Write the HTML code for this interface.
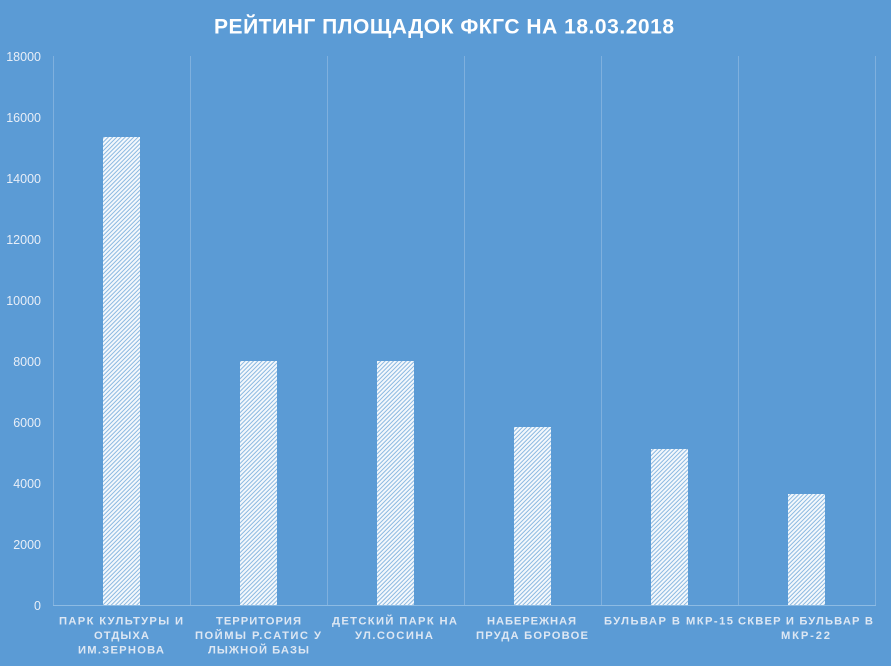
<!DOCTYPE html>
<html><head><meta charset="utf-8">
<style>
html,body{margin:0;padding:0;background:#5b9bd5;}
svg{display:block;}
</style></head>
<body>
<svg width="891" height="666" viewBox="0 0 891 666" xmlns="http://www.w3.org/2000/svg">
<defs>
<pattern id="h" patternUnits="userSpaceOnUse" width="3" height="3" patternTransform="rotate(45)">
<rect x="0" y="0" width="3" height="3" fill="#80b2de"/>
<rect x="0" y="0" width="2.1" height="3" fill="#f4f8fc"/>
</pattern>
</defs>
<rect width="891" height="666" fill="#5b9bd5"/>
<text x="444" y="33.5" text-anchor="middle" font-family="Liberation Sans, sans-serif" font-weight="bold" font-size="21" fill="#ffffff" textLength="460" lengthAdjust="spacing">РЕЙТИНГ ПЛОЩАДОК ФКГС  НА 18.03.2018</text>
<g stroke="#7fb0de" stroke-width="1">
<line x1="53.5" y1="56" x2="53.5" y2="605"/>
<line x1="190.5" y1="56" x2="190.5" y2="605"/>
<line x1="327.5" y1="56" x2="327.5" y2="605"/>
<line x1="464.5" y1="56" x2="464.5" y2="605"/>
<line x1="601.5" y1="56" x2="601.5" y2="605"/>
<line x1="738.5" y1="56" x2="738.5" y2="605"/>
<line x1="875.5" y1="56" x2="875.5" y2="605"/>
<line x1="53" y1="605.5" x2="876" y2="605.5" stroke="#8dbbe3"/>
</g>
<g font-family="Liberation Sans, sans-serif" font-size="12.5" fill="#e8eef7" text-anchor="end">
<text x="41" y="610">0</text>
<text x="41" y="549">2000</text>
<text x="41" y="488">4000</text>
<text x="41" y="427">6000</text>
<text x="41" y="366">8000</text>
<text x="41" y="305">10000</text>
<text x="41" y="244">12000</text>
<text x="41" y="183">14000</text>
<text x="41" y="122">16000</text>
<text x="41" y="61">18000</text>
</g>
<g fill="url(#h)">
<rect x="103" y="137" width="37" height="468"/>
<rect x="240" y="361" width="37" height="244"/>
<rect x="377" y="361" width="37" height="244"/>
<rect x="514" y="427" width="37" height="178"/>
<rect x="651" y="449" width="37" height="156"/>
<rect x="788" y="494" width="37" height="111"/>
</g>
<g font-family="Liberation Sans, sans-serif" font-weight="bold" font-size="11.2" fill="#dde7f3" text-anchor="middle">
<text x="121" y="624.5" textLength="124" lengthAdjust="spacing">ПАРК КУЛЬТУРЫ И</text>
<text x="121.5" y="639" textLength="55" lengthAdjust="spacing">ОТДЫХА</text>
<text x="121" y="653.5" textLength="86" lengthAdjust="spacing">ИМ.ЗЕРНОВА</text>
<text x="258.5" y="624.5" textLength="85" lengthAdjust="spacing">ТЕРРИТОРИЯ</text>
<text x="258" y="639" textLength="126" lengthAdjust="spacing">ПОЙМЫ Р.САТИС У</text>
<text x="258.5" y="653.5" textLength="101" lengthAdjust="spacing">ЛЫЖНОЙ БАЗЫ</text>
<text x="394.5" y="624.5" textLength="125" lengthAdjust="spacing">ДЕТСКИЙ ПАРК НА</text>
<text x="394" y="639" textLength="78" lengthAdjust="spacing">УЛ.СОСИНА</text>
<text x="531.5" y="624.5" textLength="89" lengthAdjust="spacing">НАБЕРЕЖНАЯ</text>
<text x="532" y="639" textLength="112" lengthAdjust="spacing">ПРУДА БОРОВОЕ</text>
<text x="668.5" y="624.5" textLength="129" lengthAdjust="spacing">БУЛЬВАР В МКР-15</text>
<text x="805.5" y="624.5" textLength="135" lengthAdjust="spacing">СКВЕР И БУЛЬВАР В</text>
<text x="805.5" y="639" textLength="49" lengthAdjust="spacing">МКР-22</text>
</g>
</svg>
</body></html>
